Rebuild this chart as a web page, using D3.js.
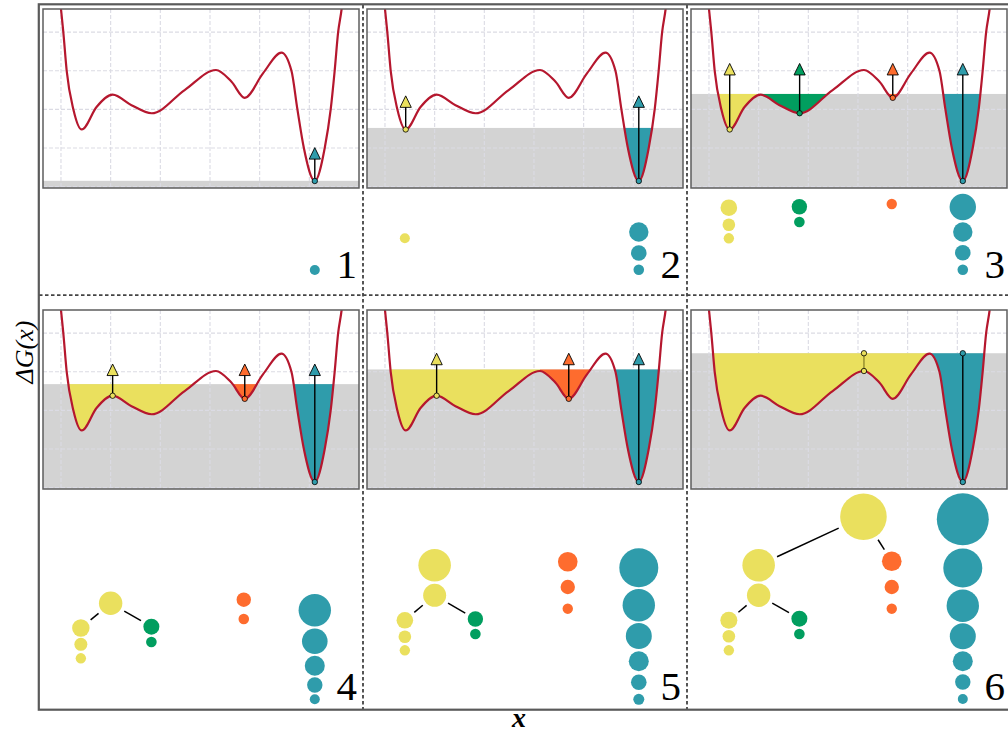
<!DOCTYPE html>
<html>
<head>
<meta charset="utf-8">
<script src="https://cdn.jsdelivr.net/npm/d3@7"></script>
<style>
    body { margin: 0; background: #fff; }
    svg { display: block; }
    text { font-family: "Liberation Serif", "DejaVu Serif", serif; }
</style>
</head>
<body>
<div id="chart"></div>
<script>
// Energy landscape (x, ΔG)
let curveX = [-0.1, 0.0, 0.047, 0.115, 0.25, 0.417, 0.72, 1.04, 1.42, 1.825, 2.49, 3.12, 3.43, 3.70, 4.07, 4.44, 4.64, 4.76, 4.89, 5.11, 5.31, 5.43, 5.51, 5.58, 5.65, 5.75];
let curveY = [6.0, 4.6, 4.0, 3.0, 2.0, 1.48, 2.07, 2.38, 2.11, 1.90, 2.50, 3.02, 2.72, 2.30, 2.94, 3.47, 3.0, 2.0, 1.0, 0.145, 1.0, 2.0, 3.0, 4.0, 4.6, 6.0];

// one entry per panel
let panelNames = ["1", "2", "3", "4", "5", "6"];
let levels = [0.15, 1.52, 2.40, 2.68, 3.06, 3.48];
let arrowTips = [1.01, 2.35, 3.19, 3.20, 3.48, 3.48];

let gridX = [0, 1, 2, 3, 4, 5];
let gridY = [0, 1, 2, 3, 4];

// filled basins: [panel, basin, from x, to x]
let fills = [
    [1, "teal", 4.44, 7],
    [2, "yellow", -1, 1.04], [2, "teal", 4.44, 7],
    [3, "yellow", -1, 1.04], [3, "green", 1.04, 3.12], [3, "orange", 3.12, 4.44], [3, "teal", 4.44, 7],
    [4, "yellow", -1, 3.12], [4, "orange", 3.12, 4.44], [4, "teal", 4.44, 7],
    [5, "yellow", -1, 3.12], [5, "orange", 3.12, 4.44], [5, "teal", 4.44, 7],
    [6, "yellow", -1, 4.44], [6, "teal", 4.44, 7]
];

// arrows: [panel, basin, x, base ΔG, kind]
let arrows = [
    [1, "teal", 5.11, 0.145, "arrow"],
    [2, "yellow", 0.417, 1.48, "arrow"], [2, "teal", 5.11, 0.145, "arrow"],
    [3, "yellow", 0.417, 1.48, "arrow"], [3, "green", 1.825, 1.90, "arrow"], [3, "orange", 3.70, 2.30, "arrow"], [3, "teal", 5.11, 0.145, "arrow"],
    [4, "yellow", 1.04, 2.38, "arrow"], [4, "orange", 3.70, 2.30, "arrow"], [4, "teal", 5.11, 0.145, "arrow"],
    [5, "yellow", 1.04, 2.38, "arrow"], [5, "orange", 3.70, 2.30, "arrow"], [5, "teal", 5.11, 0.145, "arrow"],
    [6, "yellow", 3.12, 3.02, "mark"], [6, "teal", 5.11, 0.145, "mark"]
];

// bubbles: [panel, basin, x, height, size]
let bubbles = [
    [1, "teal", 5.11, 25, 1.0],
    [2, "yellow", 0.40, 56.7, 1.0],
    [2, "teal", 5.11, 63, 3.76], [2, "teal", 5.11, 42, 2.43], [2, "teal", 5.11, 25.3, 1.12],
    [3, "yellow", 0.40, 87.3, 2.76], [3, "yellow", 0.40, 70.3, 1.59], [3, "yellow", 0.40, 56.7, 1.08],
    [3, "green", 1.82, 88.3, 2.37], [3, "green", 1.82, 73, 1.12],
    [3, "orange", 3.68, 91, 1.08],
    [3, "teal", 5.11, 88, 6.97], [3, "teal", 5.11, 63, 3.76], [3, "teal", 5.11, 42.3, 2.43], [3, "teal", 5.11, 25.3, 1.12],
    [4, "yellow", 1.0, 106.7, 5.48],
    [4, "yellow", 0.40, 82, 3.03], [4, "yellow", 0.40, 65.7, 1.69], [4, "yellow", 0.40, 51.7, 1.08],
    [4, "green", 1.82, 83.3, 2.56], [4, "green", 1.82, 68, 1.12],
    [4, "orange", 3.68, 110.3, 2.07], [4, "orange", 3.68, 91, 1.12],
    [4, "teal", 5.11, 99.7, 10.5], [4, "teal", 5.11, 68.7, 6.55], [4, "teal", 5.11, 44.3, 4.0], [4, "teal", 5.11, 25, 2.37], [4, "teal", 5.11, 10.7, 1.0],
    [5, "yellow", 1.0, 144.7, 10.6], [5, "yellow", 1.0, 114.7, 5.29],
    [5, "yellow", 0.40, 89.7, 2.76], [5, "yellow", 0.40, 73.3, 1.59], [5, "yellow", 0.40, 59.7, 1.08],
    [5, "green", 1.82, 91, 2.37], [5, "green", 1.82, 76, 1.12],
    [5, "orange", 3.68, 148.3, 3.84], [5, "orange", 3.68, 123, 2.07], [5, "orange", 3.68, 101.3, 1.08],
    [5, "teal", 5.11, 142.3, 15.2], [5, "teal", 5.11, 104.7, 10.5], [5, "teal", 5.11, 74, 6.76], [5, "teal", 5.11, 48.7, 4.0], [5, "teal", 5.11, 27.7, 2.43], [5, "teal", 5.11, 10.7, 1.21],
    [6, "yellow", 3.11, 193.3, 21.7],
    [6, "yellow", 1.0, 144.7, 10.6], [6, "yellow", 1.0, 114.7, 5.48],
    [6, "yellow", 0.40, 89.7, 2.89], [6, "yellow", 0.40, 73.7, 1.59], [6, "yellow", 0.40, 59.7, 1.08],
    [6, "green", 1.82, 91.3, 2.56], [6, "green", 1.82, 76, 1.12],
    [6, "orange", 3.68, 148.7, 3.84], [6, "orange", 3.68, 123, 2.07], [6, "orange", 3.68, 101.3, 1.08],
    [6, "teal", 5.11, 190.7, 27.0], [6, "teal", 5.11, 142, 15.2], [6, "teal", 5.11, 104.3, 10.5], [6, "teal", 5.11, 73.7, 6.76], [6, "teal", 5.11, 48.7, 4.0], [6, "teal", 5.11, 28, 2.37], [6, "teal", 5.11, 11, 1.0]
];

// merge links: [panel, parent x, parent height, child x, child height]
let links = [
    [4, 1.0, 106.7, 0.40, 82], [4, 1.0, 106.7, 1.82, 83.3],
    [5, 1.0, 114.7, 0.40, 89.7], [5, 1.0, 114.7, 1.82, 91],
    [6, 1.0, 114.7, 0.40, 89.7], [6, 1.0, 114.7, 1.82, 91.3],
    [6, 3.11, 193.3, 1.0, 144.7], [6, 3.11, 193.3, 3.68, 148.7]
];

let colors = {yellow: "#eae05e", green: "#019e5f", orange: "#fe6c2e", teal: "#2f9cab"};
let markLine = {yellow: "#8f8a2c", teal: "#000"};

// layout
let W = 1008, H = 733;
let plotW = 316, plotH = 179;
let colLeft = [43, 367, 691];
let rowTop = [9, 310];
let rowBottom = [295, 710];
let labelBase = [277.5, 699.5];

let svg = d3.select("#chart").append("svg")
    .attr("width", W)
    .attr("height", H);

let xScale = d3.scaleLinear().domain([-0.362, 6.0]).range([0, plotW]);
let yScale = d3.scaleLinear().domain([-0.036, 4.6]).range([plotH, 0]);
let rScale = d3.scaleSqrt().domain([0, 1]).range([0, 5]);

let curveData = curveX.map((x, i) => ({x: x, y: curveY[i]}));

let line = d3.line()
    .x(d => xScale(d.x))
    .y(d => yScale(d.y))
    .curve(d3.curveMonotoneX);

let above = d3.area()
    .x(d => xScale(d.x))
    .y0(-300)
    .y1(d => yScale(d.y))
    .curve(d3.curveMonotoneX);

let defs = svg.append("defs");
defs.append("clipPath").attr("id", "plot-clip")
    .append("rect").attr("width", plotW).attr("height", plotH);
defs.append("clipPath").attr("id", "above-curve")
    .append("path").datum(curveData).attr("d", above);

panelNames.forEach((name, p) => {
    let num = p + 1;
    let col = p % 3, row = Math.floor(p / 3);
    let g = svg.append("g")
        .attr("transform", `translate(${colLeft[col]},${rowTop[row]})`);

    let level = levels[p];
    let yl = yScale(level);

    // water level
    g.append("rect")
        .attr("y", yl)
        .attr("width", plotW)
        .attr("height", plotH - yl)
        .attr("fill", "#d3d3d3");

    // grid
    g.selectAll(".gx").data(gridX).enter().append("line")
        .attr("x1", d => xScale(d)).attr("x2", d => xScale(d))
        .attr("y1", 0).attr("y2", plotH)
        .attr("stroke", "#dbdbe4").attr("stroke-width", 1.1)
        .attr("stroke-dasharray", "4,2");
    g.selectAll(".gy").data(gridY).enter().append("line")
        .attr("x1", 0).attr("x2", plotW)
        .attr("y1", d => yScale(d)).attr("y2", d => yScale(d))
        .attr("stroke", "#dbdbe4").attr("stroke-width", 1.1)
        .attr("stroke-dasharray", "4,2");

    // basins filled up to the level
    let fg = g.append("g").attr("clip-path", "url(#above-curve)");
    fills.filter(f => f[0] === num).forEach(f => {
        let x0 = Math.max(0, xScale(f[2])), x1 = Math.min(plotW, xScale(f[3]));
        fg.append("rect")
            .attr("x", x0)
            .attr("y", yl)
            .attr("width", x1 - x0)
            .attr("height", plotH - yl)
            .attr("fill", colors[f[1]]);
    });

    // landscape
    g.append("path")
        .datum(curveData)
        .attr("clip-path", "url(#plot-clip)")
        .attr("d", line)
        .attr("fill", "none")
        .attr("stroke", "#b5172e")
        .attr("stroke-width", 2.2);

    // arrows
    let tip = yScale(arrowTips[p]);
    arrows.filter(a => a[0] === num).forEach(a => {
        let ax = xScale(a[2]), ab = yScale(a[3]);
        if (a[4] === "arrow") {
            g.append("line")
                .attr("x1", ax).attr("x2", ax)
                .attr("y1", ab).attr("y2", tip + 10)
                .attr("stroke", "#000").attr("stroke-width", 1.4);
            g.append("path")
                .attr("d", `M${ax},${tip}L${ax + 5.6},${tip + 11.5}L${ax - 5.6},${tip + 11.5}Z`)
                .attr("fill", colors[a[1]])
                .attr("stroke", "#000").attr("stroke-width", 0.9);
            g.append("circle")
                .attr("cx", ax).attr("cy", ab).attr("r", 2.7)
                .attr("fill", colors[a[1]])
                .attr("stroke", "#000").attr("stroke-width", 0.8);
        } else {
            g.append("line")
                .attr("x1", ax).attr("x2", ax)
                .attr("y1", ab).attr("y2", tip)
                .attr("stroke", markLine[a[1]]).attr("stroke-width", 1.4);
            [ab, tip].forEach(cy => {
                g.append("circle")
                    .attr("cx", ax).attr("cy", cy).attr("r", 2.7)
                    .attr("fill", colors[a[1]])
                    .attr("stroke", "#000").attr("stroke-width", 0.8);
            });
        }
    });

    // plot border
    g.append("rect")
        .attr("width", plotW)
        .attr("height", plotH)
        .attr("fill", "none")
        .attr("stroke", "#5e5e5e")
        .attr("stroke-width", 1.5);

    // merge tree below the plot
    let base = rowBottom[row] - rowTop[row];
    let yB = d3.scaleLinear().domain([0, 100]).range([base, base - 100]);
    let pb = bubbles.filter(b => b[0] === num);
    let sizeAt = (x, h) => pb.find(b => b[2] === x && b[3] === h)[4];

    links.filter(l => l[0] === num).forEach(l => {
        let x1 = xScale(l[1]), y1 = yB(l[2]), x2 = xScale(l[3]), y2 = yB(l[4]);
        let dx = x2 - x1, dy = y2 - y1, len = Math.sqrt(dx * dx + dy * dy);
        let t1 = (rScale(sizeAt(l[1], l[2])) + 4) / len;
        let t2 = (rScale(sizeAt(l[3], l[4])) + 4) / len;
        g.append("line")
            .attr("x1", x1 + dx * t1).attr("y1", y1 + dy * t1)
            .attr("x2", x2 - dx * t2).attr("y2", y2 - dy * t2)
            .attr("stroke", "#000").attr("stroke-width", 1.5);
    });

    g.selectAll(".bubble")
        .data(pb)
        .enter().append("circle")
        .attr("class", "bubble")
        .attr("cx", d => xScale(d[2]))
        .attr("cy", d => yB(d[3]))
        .attr("r", d => rScale(d[4]))
        .attr("fill", d => colors[d[1]]);

    // panel number
    g.append("text")
        .attr("x", plotW - 2)
        .attr("y", labelBase[row] - rowTop[row])
        .attr("text-anchor", "end")
        .style("font-size", "41px")
        .text(name);
});

// dashed dividers between panels
let dash = svg.append("g")
    .attr("stroke", "#444")
    .attr("stroke-width", 1.8)
    .attr("stroke-dasharray", "3.5,2.5");
dash.append("line").attr("x1", 363).attr("x2", 363).attr("y1", 5).attr("y2", 709);
dash.append("line").attr("x1", 687).attr("x2", 687).attr("y1", 5).attr("y2", 709);
dash.append("line").attr("x1", 39).attr("x2", 1010).attr("y1", 295.2).attr("y2", 295.2);

// outer frame
svg.append("rect")
    .attr("x", 38.8)
    .attr("y", 4.3)
    .attr("width", 975)
    .attr("height", 705.4)
    .attr("fill", "none")
    .attr("stroke", "#5a5a5a")
    .attr("stroke-width", 2.2);

// axis titles
svg.append("text")
    .attr("transform", "translate(33,352) rotate(-90)")
    .attr("text-anchor", "middle")
    .style("font-size", "26px")
    .style("font-style", "italic")
    .text("ΔG(x)");

svg.append("text")
    .attr("x", 519)
    .attr("y", 727)
    .attr("text-anchor", "middle")
    .style("font-size", "28px")
    .style("font-style", "italic")
    .style("font-weight", "bold")
    .text("x");
</script>
</body>
</html>
